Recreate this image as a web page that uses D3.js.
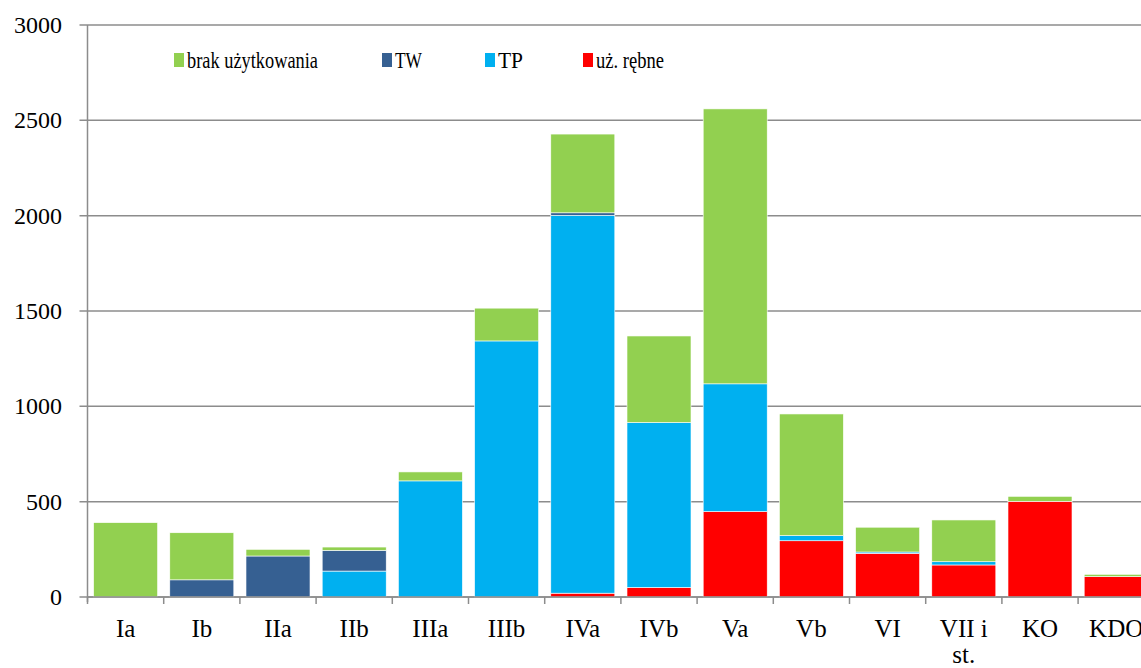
<!DOCTYPE html>
<html>
<head>
<meta charset="utf-8">
<script src="https://cdn.jsdelivr.net/npm/d3@7"></script>
<style>
  html, body { margin: 0; padding: 0; background: #fff; }
  svg { display: block; }
</style>
</head>
<body>
<svg id="chart" width="1141" height="668" font-family="'Liberation Serif', 'Times New Roman', serif"></svg>
<script>
// Age classes (klasy wieku)
const categories = ["Ia", "Ib", "IIa", "IIb", "IIIa", "IIIb", "IVa", "IVb", "Va", "Vb", "VI", "VII i st.", "KO", "KDO"];

// Series values per class, stacked bottom to top
const uzRebne = [0, 0, 0, 0, 0, 0, 20, 50, 448, 295, 229, 168, 502, 107];
const tp      = [0, 0, 0, 136, 609, 1343, 1982, 865, 670, 27, 7, 17, 0, 0];
const tw      = [0, 90, 215, 109, 0, 0, 13, 0, 0, 0, 0, 0, 0, 0];
const brak    = [390, 247, 35, 17, 47, 172, 413, 454, 1442, 638, 130, 219, 26, 12];

const yTicks = [0, 500, 1000, 1500, 2000, 2500, 3000];

const seriesDefs = [
  { key: "uz",   name: "uż. rębne",          values: uzRebne, color: "#FF0000" },
  { key: "tp",   name: "TP",                 values: tp,      color: "#00B0F0" },
  { key: "tw",   name: "TW",                 values: tw,      color: "#366092" },
  { key: "brak", name: "brak użytkowania",   values: brak,    color: "#92D050" }
];

const rows = categories.map((c, i) => {
  const r = { cat: c };
  seriesDefs.forEach(s => { r[s.key] = s.values[i]; });
  return r;
});

const svg = d3.select("#chart");
const serif = "'Liberation Serif', 'Times New Roman', serif";
const margin = { left: 87.5, top: 25, bottom: 597 };
const step = 76.2;
const plotRight = margin.left + step * categories.length;

const x = d3.scaleBand()
  .domain(categories)
  .range([margin.left, plotRight])
  .paddingInner(0.16)
  .paddingOuter(0.08);

const y = d3.scaleLinear().domain([0, 3000]).range([margin.bottom, margin.top]);

const gridColor = "#8c8c8c";

// Horizontal gridlines with small outward ticks
svg.append("g").selectAll("line")
  .data(yTicks)
  .join("line")
  .attr("x1", margin.left - 8)
  .attr("x2", plotRight)
  .attr("y1", d => y(d))
  .attr("y2", d => y(d))
  .attr("stroke", gridColor)
  .attr("stroke-width", 1.5);

// Y tick labels
svg.append("g").selectAll("text")
  .data(yTicks)
  .join("text")
  .attr("x", 62)
  .attr("y", d => y(d))
  .attr("dy", "0.33em")
  .attr("text-anchor", "end")
  .attr("font-family", serif)
  .attr("font-size", 24)
  .text(d => d);

// Stacked bars
const stack = d3.stack().keys(seriesDefs.map(s => s.key));
const stacked = stack(rows);

svg.append("g").selectAll("g")
  .data(stacked)
  .join("g")
  .attr("fill", (d, i) => seriesDefs[i].color)
  .selectAll("rect")
  .data(d => d)
  .join("rect")
  .attr("x", d => x(d.data.cat))
  .attr("width", x.bandwidth())
  .attr("y", d => y(d[1]))
  .attr("height", d => Math.max(0, y(d[0]) - y(d[1])))
  .attr("stroke", d => (d[1] - d[0]) > 0 ? "#ffffff" : "none")
  .attr("stroke-width", 0.6);

// Vertical axis line
svg.append("line")
  .attr("x1", margin.left).attr("x2", margin.left)
  .attr("y1", margin.top).attr("y2", margin.bottom + 5)
  .attr("stroke", gridColor).attr("stroke-width", 1.5);

// Horizontal axis line
svg.append("line")
  .attr("x1", margin.left).attr("x2", plotRight)
  .attr("y1", margin.bottom).attr("y2", margin.bottom)
  .attr("stroke", gridColor).attr("stroke-width", 1.5);

// Category boundary ticks
const boundaries = d3.range(categories.length + 1).map(i => margin.left + i * x.step());
svg.append("g").selectAll("line")
  .data(boundaries)
  .join("line")
  .attr("x1", d => d).attr("x2", d => d)
  .attr("y1", margin.bottom).attr("y2", margin.bottom + 7)
  .attr("stroke", gridColor).attr("stroke-width", 1.5);

// Category labels (wrapped where needed)
const labelWrap = { "VII i st.": ["VII i", "st."] };
const xl = svg.append("g").selectAll("text")
  .data(categories)
  .join("text")
  .attr("x", d => x(d) + x.bandwidth() / 2)
  .attr("y", 637)
  .attr("text-anchor", "middle")
  .attr("font-family", serif)
  .attr("font-size", 25);
xl.each(function (d) {
  const lines = labelWrap[d] || [d];
  const t = d3.select(this);
  lines.forEach((ln, i) => {
    t.append("tspan")
      .attr("x", x(d) + x.bandwidth() / 2)
      .attr("dy", i === 0 ? 0 : 26)
      .text(ln);
  });
});

// Legend
const legendItems = [
  { name: "brak użytkowania", color: "#92D050", bx: 174, len: 131 },
  { name: "TW",               color: "#366092", bx: 382, len: 27 },
  { name: "TP",               color: "#00B0F0", bx: 485, len: 25 },
  { name: "uż. rębne",        color: "#FF0000", bx: 583, len: 68 }
];
const lg = svg.append("g").selectAll("g")
  .data(legendItems)
  .join("g")
  .attr("transform", d => `translate(${d.bx},0)`);
lg.append("rect")
  .attr("x", 0).attr("y", 53)
  .attr("width", 10).attr("height", 14)
  .attr("fill", d => d.color);
lg.append("text")
  .attr("x", 13).attr("y", 68)
  .attr("font-family", serif)
  .attr("font-size", 24)
  .attr("textLength", d => d.len)
  .attr("lengthAdjust", "spacingAndGlyphs")
  .text(d => d.name);
</script>
</body>
</html>
